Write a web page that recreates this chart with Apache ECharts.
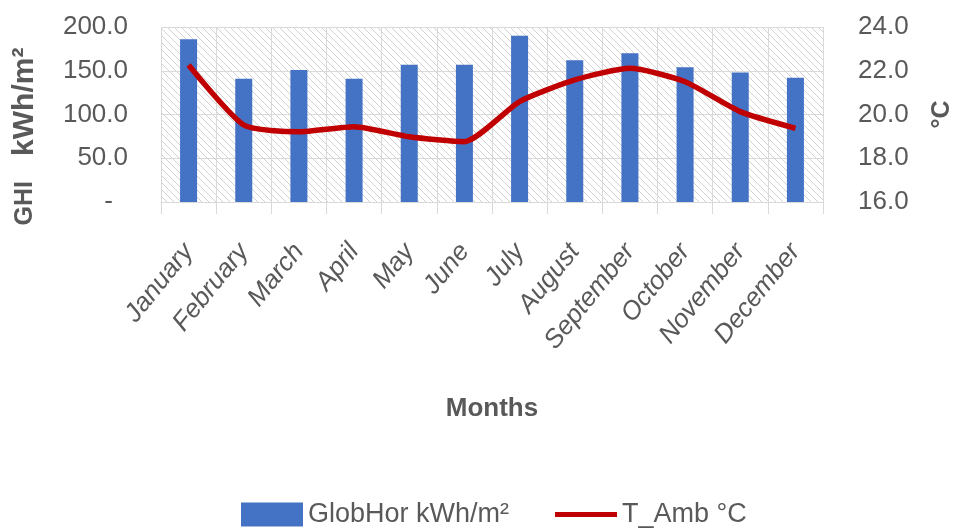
<!DOCTYPE html>
<html>
<head>
<meta charset="utf-8">
<script src="https://cdn.jsdelivr.net/npm/echarts@6/dist/echarts.min.js"></script>
<style>
  html, body { margin: 0; padding: 0; background: #ffffff; }
  #chart { width: 955px; height: 531px; }
</style>
</head>
<body>
<div id="chart"></div>
<script>
// Monthly global horizontal irradiation and ambient temperature
const months = ['January', 'February', 'March', 'April', 'May', 'June',
  'July', 'August', 'September', 'October', 'November', 'December'];
const globHor = [186, 141, 151, 141, 157, 157, 190, 162, 170, 154, 148, 142];
const tAmb = [22.26, 19.52, 19.21, 19.44, 18.98, 18.76, 20.59, 21.58, 22.11, 21.5, 20.13, 19.37];

const ghiTicks = { min: 0, max: 200, step: 50 };
const tempTicks = { min: 16, max: 24, step: 2 };

const FONT = 'Liberation Sans, Arial, sans-serif';
const TEXT = '#595959';
const GRID_LINE = '#d9d9d9';

// diagonal hatch used as the plot-area fill
function hatchPattern() {
  const s = 7;
  const c = document.createElement('canvas');
  c.width = s; c.height = s;
  const ctx = c.getContext('2d');
  ctx.fillStyle = '#ffffff';
  ctx.fillRect(0, 0, s, s);
  ctx.strokeStyle = '#d2d2d2';
  ctx.lineWidth = 1;
  ctx.beginPath();
  ctx.moveTo(-1, -1); ctx.lineTo(s + 1, s + 1);
  ctx.moveTo(-1, s - 1); ctx.lineTo(1, s + 1);
  ctx.moveTo(s - 1, -1); ctx.lineTo(s + 1, 1);
  ctx.stroke();
  return { image: c, repeat: 'repeat' };
}

// legend swatch for the temperature line: a thin band across a 62x24 box
const LINE_ICON = 'path://M0,0 L0.1,0 L0,0.1 Z M0,9.5 L62,9.5 L62,14.5 L0,14.5 Z M62,24 L61.9,24 L62,23.9 Z';

const chart = echarts.init(document.getElementById('chart'), null, { renderer: 'canvas' });

chart.setOption({
  animation: false,
  backgroundColor: '#ffffff',
  textStyle: { fontFamily: FONT },
  grid: {
    left: 161, right: 132, top: 27, bottom: 329,
    show: true, borderWidth: 0,
    backgroundColor: hatchPattern(),
    outerBoundsMode: 'none'
  },
  legend: {
    top: 496,
    left: 236,
    itemGap: 46,
    itemWidth: 62,
    itemHeight: 24,
    textStyle: { color: TEXT, fontSize: 27, fontFamily: FONT },
    data: [
      { name: 'GlobHor kWh/m²', icon: 'rect' },
      { name: 'T_Amb °C', icon: LINE_ICON, itemStyle: { color: '#c00000' } }
    ]
  },
  xAxis: {
    type: 'category',
    data: months,
    boundaryGap: true,
    name: 'Months',
    nameLocation: 'middle',
    nameGap: 194,
    nameTextStyle: { color: TEXT, fontSize: 26, fontWeight: 'bold', fontFamily: FONT },
    axisLine: { show: true, lineStyle: { color: GRID_LINE, width: 1 } },
    axisTick: { show: true, length: 12, interval: 0, lineStyle: { color: GRID_LINE } },
    splitLine: { show: true, interval: 0, lineStyle: { color: GRID_LINE, width: 1 } },
    axisLabel: {
      interval: 0,
      rotate: 51,
      margin: 45,
      color: TEXT,
      fontSize: 26,
      fontStyle: 'italic',
      fontFamily: FONT
    }
  },
  yAxis: [
    {
      type: 'value',
      min: ghiTicks.min, max: ghiTicks.max, interval: ghiTicks.step,
      name: '{a|GHI}{b|   kWh/m²}',
      nameLocation: 'middle',
      nameRotate: 90,
      nameGap: 121,
      nameTextStyle: {
        color: TEXT, fontWeight: 'bold', fontFamily: FONT,
        padding: [0, 44, 0, 0],
        rich: {
          a: { color: TEXT, fontSize: 25, fontWeight: 'bold', fontFamily: FONT },
          b: { color: TEXT, fontSize: 30, fontWeight: 'bold', fontFamily: FONT }
        }
      },
      axisLine: { show: false },
      axisTick: { show: false },
      splitLine: { show: true, lineStyle: { color: GRID_LINE, width: 1 } },
      axisLabel: {
        margin: 33,
        color: TEXT,
        fontSize: 26,
        fontFamily: FONT,
        formatter: v => v === 0 ? '{dash|-}' : v.toFixed(1),
        rich: {
          dash: { color: TEXT, fontSize: 26, fontFamily: FONT, padding: [0, 15, 0, 0] }
        }
      }
    },
    {
      type: 'value',
      position: 'right',
      min: tempTicks.min, max: tempTicks.max, interval: tempTicks.step,
      name: '°C',
      nameLocation: 'middle',
      nameRotate: 90,
      nameGap: 107,
      nameTextStyle: { color: TEXT, fontSize: 25, fontWeight: 'bold', fontFamily: FONT },
      axisLine: { show: false },
      axisTick: { show: false },
      splitLine: { show: false },
      axisLabel: {
        margin: 35,
        color: TEXT,
        fontSize: 26,
        fontFamily: FONT,
        formatter: v => v.toFixed(1)
      }
    }
  ],
  series: [
    {
      name: 'GlobHor kWh/m²',
      type: 'bar',
      yAxisIndex: 0,
      data: globHor,
      barWidth: 17,
      itemStyle: { color: '#4472c4' }
    },
    {
      name: 'T_Amb °C',
      type: 'line',
      yAxisIndex: 1,
      data: tAmb,
      smooth: 0.2,
      symbol: 'none',
      lineStyle: { color: '#c00000', width: 5.5 },
      itemStyle: { color: '#c00000' }
    }
  ]
});
</script>
</body>
</html>
